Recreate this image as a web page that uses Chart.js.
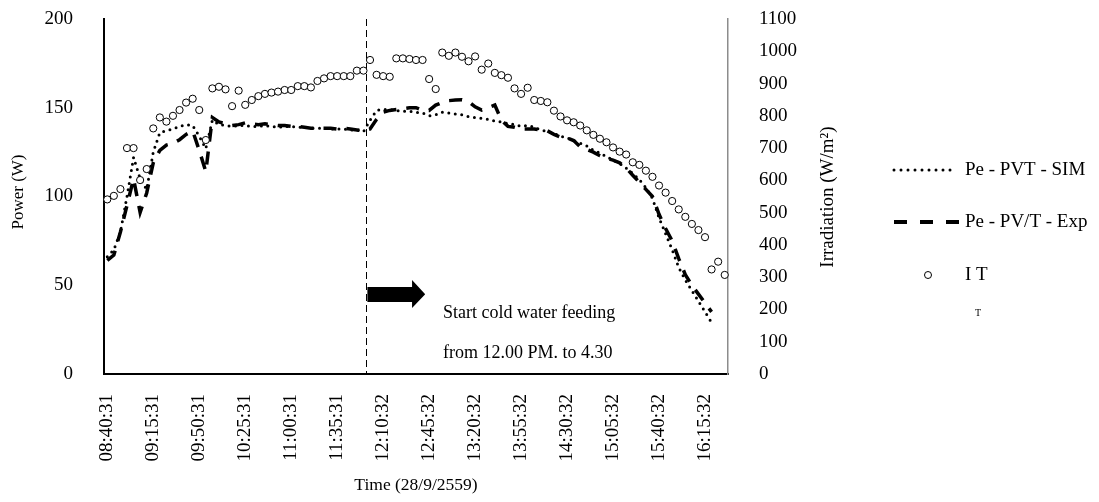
<!DOCTYPE html>
<html>
<head>
<meta charset="utf-8">
<title>Power and irradiation, 28/9/2559</title>
<script src="https://cdn.jsdelivr.net/npm/chart.js@4.4.1/dist/chart.umd.min.js"></script>
<style>
  html, body { margin: 0; padding: 0; background: #ffffff; }
  #wrap { width: 1099px; height: 502px; }
  canvas { display: block; }
</style>
</head>
<body>
<div id="wrap"><canvas id="chart" width="1099" height="502"></canvas></div>
<script>
// Sample times, every 5 minutes
const timeLabels = [
  '08:40:31','08:45:31','08:50:31','08:55:31','09:00:31','09:05:31','09:10:31',
  '09:15:31','09:20:31','09:25:31','09:30:31','09:35:31','09:40:31','09:45:31',
  '09:50:31','09:55:31','10:00:31','10:05:31','10:10:31','10:15:31','10:20:31',
  '10:25:31','10:30:31','10:35:31','10:40:31','10:45:31','10:50:31','10:55:31',
  '11:00:31','11:05:31','11:10:31','11:15:31','11:20:31','11:25:31','11:30:31',
  '11:35:31','11:40:31','11:45:31','11:50:31','11:55:31','12:00:32','12:05:32',
  '12:10:32','12:15:32','12:20:32','12:25:32','12:30:32','12:35:32','12:40:32',
  '12:45:32','12:50:32','12:55:32','13:00:32','13:05:32','13:10:32','13:15:32',
  '13:20:32','13:25:32','13:30:32','13:35:32','13:40:32','13:45:32','13:50:32',
  '13:55:32','14:00:32','14:05:32','14:10:32','14:15:32','14:20:32','14:25:32',
  '14:30:32','14:35:32','14:40:32','14:45:32','14:50:32','14:55:32','15:00:32',
  '15:05:32','15:10:32','15:15:32','15:20:32','15:25:32','15:30:32','15:35:32',
  '15:40:32','15:45:32','15:50:32','15:55:32','16:00:32','16:05:32','16:10:32',
  '16:15:32','16:20:32','16:25:32','16:30:32'
];

// Electrical power, simulated PVT (W)
const peSim = [
  66, 70, 80, 100, 122, 110, 104, 125, 136, 137,
  138, 139.5, 140.5, 140, 134, 127, 143, 140.5, 140, 139.5,
  140, 140, 139.5, 139.5, 140, 139.5, 139, 139.5, 139.5, 139,
  139, 138.5, 138.5, 138.5, 138, 138, 138, 137.5, 137.5, 136.5,
  143, 148.5, 149, 149, 148.5, 148, 148, 147.5, 147, 145.5,
  146, 147.5, 147, 146.5, 146, 145, 144.5, 144, 143.5, 142.5,
  142, 141, 140.5, 139.5, 140, 139, 137.5, 136.5, 135.5, 134,
  133, 131.5, 130, 128.5, 126, 124.5, 122.5, 120.5, 118.5, 116,
  113, 109.5, 105, 99, 88, 79, 70, 60, 53, 47,
  41, 35, 29, null, null
];

// Electrical power, measured PV/T (W)
const peExp = [
  64, 67, 80, 95, 110, 91, 102, 119, 126, 129,
  130, 132, 135, 137, 126, 114, 144.5, 142, 141, 140,
  140.5, 141.5, 141, 140.5, 141, 140.5, 140, 140, 139.5, 139.5,
  139, 138.5, 138.5, 138.5, 138.5, 138, 138.5, 138, 137.5, 137,
  138, 143.5, 147.5, 148.5, 149, 149.5, 150, 150, 148.5, 148.5,
  151.5, 153, 154, 154.3, 154.5, 153.5, 150.5, 148.7, 150, 151.5,
  143, 139.5, 139, 138, 138, 138, 137.5, 137, 135, 133.5,
  133, 131.5, 128, 126.5, 125, 123, 121.5, 120.5, 119, 116,
  112, 108, 104, 100, 90, 82, 75, 65, 56, 50,
  45, 40, 35, null, null
];

// Irradiation on the collector plane, I_T (W/m2)
const irradiance = [
  541, 552, 573, 700, 700, 601, 635, 761, 795, 782,
  800, 818, 841, 853, 818, 725, 885, 890, 882, 830,
  878, 834, 849, 861, 868, 872, 875, 880, 880, 892,
  892, 888, 908, 916, 923, 923, 923, 923, 940, 940,
  973, 927, 923, 921, 978, 978, 976, 973, 973, 914,
  883, 996, 986, 996, 983, 969, 984, 943, 962, 933,
  926, 918, 885, 868, 887, 849, 846, 842, 816, 798,
  786, 780, 770, 755, 741, 729, 718, 702, 689, 680,
  656, 648, 630, 611, 584, 562, 536, 510, 487, 465,
  446, 424, 324, 348, 307
];

// Axis ranges and tick spacing
const powerAxis = { min: 0, max: 200, step: 50 };
const irradianceAxis = { min: 0, max: 1100, step: 100 };
const labelEvery = 7;

// Cold water feeding starts between 11:55:31 and 12:00:32 (category position)
const feedStart = 39.4;

const SERIF = "'Liberation Serif', 'Times New Roman', serif";

// Annotation geometry in data units (x: category position, y: power in W)
const arrowSpec = { x0: 39.6, xHead: 46.4, xTip: 48.4, shaftTop: 49, shaftBottom: 40.6, headTop: 53, headBottom: 37.2, tipY: 45 };
const noteSpec = { x: 51.1, lines: [
  { text: 'Start cold water feeding', y: 34.4 },
  { text: 'from 12.00 PM. to 4.30', y: 11.8 }
]};

// Legend and outer title layout (canvas pixels)
const legendLayout = { sampleX0: 894, sampleX1: 958, textX: 965, rows: [170, 222, 275], markerX: 928, subX: 975, subY: 313 };
const titleLayout = { powerX: 19, powerY: 192, irrX: 828, irrY: 197 };

function drawDotted(ctx, x0, x1, y) {
  ctx.save();
  ctx.strokeStyle = '#000';
  ctx.lineWidth = 3;
  ctx.lineCap = 'round';
  ctx.setLineDash([0, 7]);
  ctx.beginPath();
  ctx.moveTo(x0, y);
  ctx.lineTo(x1, y);
  ctx.stroke();
  ctx.restore();
}

function drawDashed(ctx, x0, x1, y) {
  ctx.save();
  ctx.strokeStyle = '#000';
  ctx.lineWidth = 4;
  ctx.setLineDash([13, 13]);
  ctx.beginPath();
  ctx.moveTo(x0, y);
  ctx.lineTo(x1, y);
  ctx.stroke();
  ctx.restore();
}

function drawVerticalText(ctx, text, cx, cy, size) {
  ctx.save();
  ctx.translate(cx, cy);
  ctx.rotate(-Math.PI / 2);
  ctx.textAlign = 'center';
  ctx.textBaseline = 'middle';
  ctx.font = size + 'px ' + SERIF;
  ctx.fillStyle = '#000';
  ctx.fillText(text, 0, 0);
  ctx.restore();
}

const decorations = {
  id: 'decorations',
  beforeDatasetsDraw(chart) {
    const { ctx, chartArea, scales: { x } } = chart;
    const fx = Math.round(x.getPixelForValue(feedStart)) + 0.5;
    ctx.save();
    ctx.strokeStyle = '#000';
    ctx.lineWidth = 1;
    ctx.setLineDash([7, 4]);
    ctx.beginPath();
    ctx.moveTo(fx, chartArea.top);
    ctx.lineTo(fx, chartArea.bottom);
    ctx.stroke();
    ctx.restore();
  },
  afterDraw(chart) {
    const { ctx, scales: { x, y } } = chart;

    // block arrow
    const a = arrowSpec;
    ctx.save();
    ctx.fillStyle = '#000';
    ctx.beginPath();
    ctx.moveTo(x.getPixelForValue(a.x0), y.getPixelForValue(a.shaftTop));
    ctx.lineTo(x.getPixelForValue(a.xHead), y.getPixelForValue(a.shaftTop));
    ctx.lineTo(x.getPixelForValue(a.xHead), y.getPixelForValue(a.headTop));
    ctx.lineTo(x.getPixelForValue(a.xTip), y.getPixelForValue(a.tipY));
    ctx.lineTo(x.getPixelForValue(a.xHead), y.getPixelForValue(a.headBottom));
    ctx.lineTo(x.getPixelForValue(a.xHead), y.getPixelForValue(a.shaftBottom));
    ctx.lineTo(x.getPixelForValue(a.x0), y.getPixelForValue(a.shaftBottom));
    ctx.closePath();
    ctx.fill();

    // note text
    ctx.font = '18px ' + SERIF;
    ctx.textAlign = 'left';
    ctx.textBaseline = 'middle';
    noteSpec.lines.forEach(l => {
      ctx.fillText(l.text, x.getPixelForValue(noteSpec.x), y.getPixelForValue(l.y));
    });

    // axis titles, both reading upward
    drawVerticalText(ctx, 'Power (W)', titleLayout.powerX, titleLayout.powerY, 17);
    drawVerticalText(ctx, 'Irradiation (W/m\u00B2)', titleLayout.irrX, titleLayout.irrY, 19);

    // legend
    const L = legendLayout;
    drawDotted(ctx, L.sampleX0, L.sampleX1 - 1, L.rows[0]);
    drawDashed(ctx, L.sampleX0, L.sampleX1 + 4, L.rows[1]);
    ctx.beginPath();
    ctx.lineWidth = 1;
    ctx.strokeStyle = '#000';
    ctx.fillStyle = '#fff';
    ctx.arc(L.markerX, L.rows[2], 3.5, 0, Math.PI * 2);
    ctx.fill();
    ctx.stroke();
    ctx.fillStyle = '#000';
    ctx.font = '19px ' + SERIF;
    ctx.textAlign = 'left';
    ctx.textBaseline = 'middle';
    ctx.fillText('Pe - PVT - SIM', L.textX, L.rows[0]);
    ctx.fillText('Pe - PV/T - Exp', L.textX, L.rows[1]);
    ctx.fillText('I T', L.textX, L.rows[2]);
    ctx.font = '10px ' + SERIF;
    ctx.fillText('T', L.subX, L.subY);
    ctx.restore();
  }
};

Chart.defaults.font.family = SERIF;
Chart.defaults.color = '#000';

// keep the plot box fixed: no extra room for half tick labels
function noPad(s) {
  s.paddingTop = 0;
  s.paddingBottom = 0;
  s.paddingLeft = 0;
  s.paddingRight = 0;
}

new Chart(document.getElementById('chart'), {
  type: 'line',
  data: {
    labels: timeLabels,
    datasets: [
      {
        label: 'I T',
        data: irradiance,
        yAxisID: 'y1',
        showLine: false,
        pointStyle: 'circle',
        pointRadius: 3.6,
        pointBorderWidth: 1,
        pointBorderColor: '#000',
        pointBackgroundColor: '#fff',
        order: 0
      },
      {
        label: 'Pe - PV/T - Exp',
        data: peExp,
        yAxisID: 'y',
        borderColor: '#000',
        borderWidth: 3.5,
        borderDash: [13, 10],
        pointRadius: 0,
        tension: 0,
        fill: false,
        order: 1
      },
      {
        label: 'Pe - PVT - SIM',
        data: peSim,
        yAxisID: 'y',
        borderColor: '#000',
        borderWidth: 3,
        borderCapStyle: 'round',
        borderDash: [0, 6.5],
        pointRadius: 0,
        tension: 0,
        fill: false,
        order: 2
      }
    ]
  },
  options: {
    responsive: false,
    animation: false,
    events: [],
    layout: { padding: { top: 19, left: 0, right: 0, bottom: 0 } },
    plugins: {
      legend: { display: false },
      tooltip: { enabled: false },
      title: { display: false }
    },
    scales: {
      x: {
        type: 'category',
        offset: true,
        grid: { display: false, drawTicks: false },
        border: { display: true, color: '#000', width: 2 },
        ticks: {
          autoSkip: false,
          minRotation: 90,
          maxRotation: 90,
          padding: 20,
          font: { size: 19, family: SERIF },
          color: '#000',
          callback: (v, i) => (i % labelEvery === 0 ? timeLabels[i] : '')
        },
        title: {
          display: true,
          text: 'Time (28/9/2559)',
          font: { size: 17.5, family: SERIF },
          color: '#000',
          padding: { top: 0, bottom: 6 }
        },
        afterFit: s => { s.height = 128; noPad(s); }
      },
      y: {
        position: 'left',
        min: powerAxis.min,
        max: powerAxis.max,
        grid: { display: false, drawTicks: false },
        border: { display: true, color: '#000', width: 2 },
        ticks: {
          stepSize: powerAxis.step, padding: 31,
          font: { size: 19, family: SERIF }, color: '#000',
          callback: v => String(v)
        },
        afterFit: s => { s.width = 104; noPad(s); }
      },
      y1: {
        position: 'right',
        min: irradianceAxis.min,
        max: irradianceAxis.max,
        grid: { display: false, drawTicks: false },
        border: { display: true, color: '#8c8c8c', width: 1.5 },
        ticks: {
          stepSize: irradianceAxis.step, padding: 31,
          font: { size: 19, family: SERIF }, color: '#000',
          callback: v => String(v)
        },
        afterFit: s => { s.width = 371; noPad(s); }
      }
    }
  },
  plugins: [decorations]
});
</script>
</body>
</html>
